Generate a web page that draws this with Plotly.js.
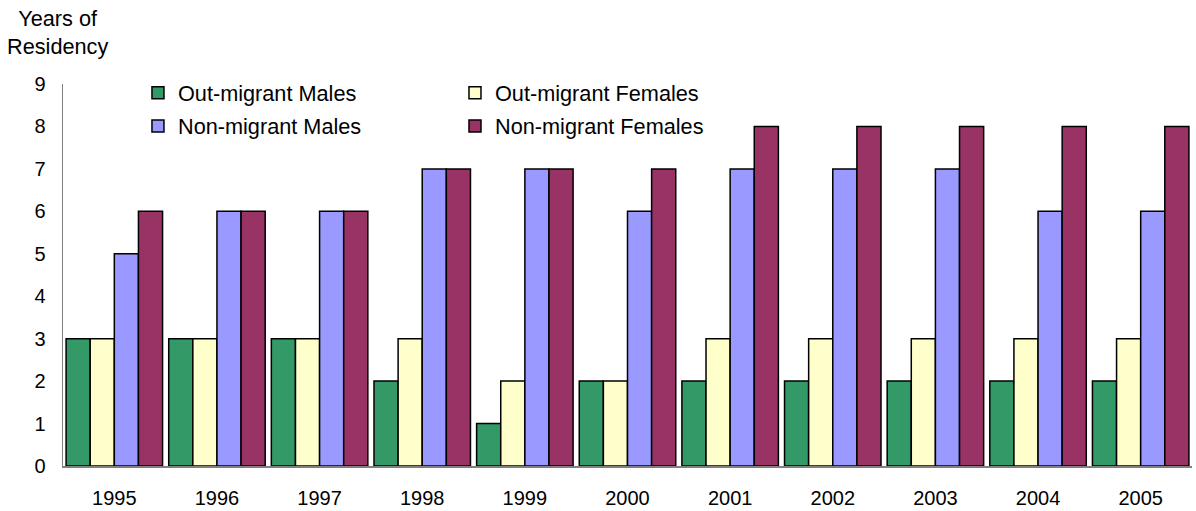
<!DOCTYPE html>
<html><head><meta charset="utf-8">
<script src="https://cdn.plot.ly/plotly-3.0.1.min.js"></script>
<style>html,body{margin:0;padding:0;background:#fff}#chart{width:1196px;height:511px}</style>
</head><body><div id="chart"></div>
<script>
const years = ["1995","1996","1997","1998","1999","2000","2001","2002","2003","2004","2005"];
const outMigrantMales   = [3,3,3,2,1,2,2,2,2,2,2];
const outMigrantFemales = [3,3,3,3,2,2,3,3,3,3,3];
const nonMigrantMales   = [5,6,6,7,7,6,7,7,7,6,6];
const nonMigrantFemales = [6,6,6,7,7,7,8,8,8,8,8];
const seriesNames = ["Out-migrant Males","Out-migrant Females","Non-migrant Males","Non-migrant Females"];
const colors = ["#339966","#FFFFCC","#9999FF","#993366"];
const legends = ["legend","legend2","legend","legend2"];
const values = [outMigrantMales,outMigrantFemales,nonMigrantMales,nonMigrantFemales];

const data = values.map((v,i)=>({
  type:"bar", x:years, y:v, name:seriesNames[i], legend:legends[i], legendgroup:"g"+i,
  marker:{color:colors[i], line:{color:"#000", width:1.5}}
}));

const font = {family:"Liberation Sans, Arial, sans-serif", size:20, color:"#000"};
const legendBase = {yanchor:"top", xanchor:"left", orientation:"v", y:1.031,
  bgcolor:"rgba(0,0,0,0)", font:{...font, size:21.7}, tracegroupgap:2, itemwidth:30};
const layout = {
  width:1196, height:511,
  margin:{l:63, r:4, t:84, b:45},
  paper_bgcolor:"#fff", plot_bgcolor:"#fff",
  barmode:"group", bargap:0.06, bargroupgap:0,
  font:font,
  showlegend:true,
  legend:{...legendBase, x:0.0664},
  legend2:{...legendBase, x:0.3472},
  xaxis:{type:"category", tickmode:"array", tickvals:years, ticktext:years,
    showgrid:false, showline:true, linecolor:"#808080", linewidth:1.5,
    ticks:"outside", ticklen:13, tickcolor:"rgba(0,0,0,0)", tickfont:{...font, size:20}, zeroline:false},
  yaxis:{range:[0,9], dtick:1, showgrid:false, showline:true, linecolor:"#808080", linewidth:1.5,
    ticks:"outside", ticklen:12, tickcolor:"rgba(0,0,0,0)", tickfont:{...font, size:20}, zeroline:false},
  annotations:[{text:"Years of<br>Residency", xref:"paper", yref:"paper", x:-0.0049, y:1.136,
    xanchor:"center", yanchor:"middle", showarrow:false, align:"center", font:{...font, size:21.7}}]
};
Plotly.newPlot("chart", data, layout, {displayModeBar:false, staticPlot:true});
</script></body></html>
